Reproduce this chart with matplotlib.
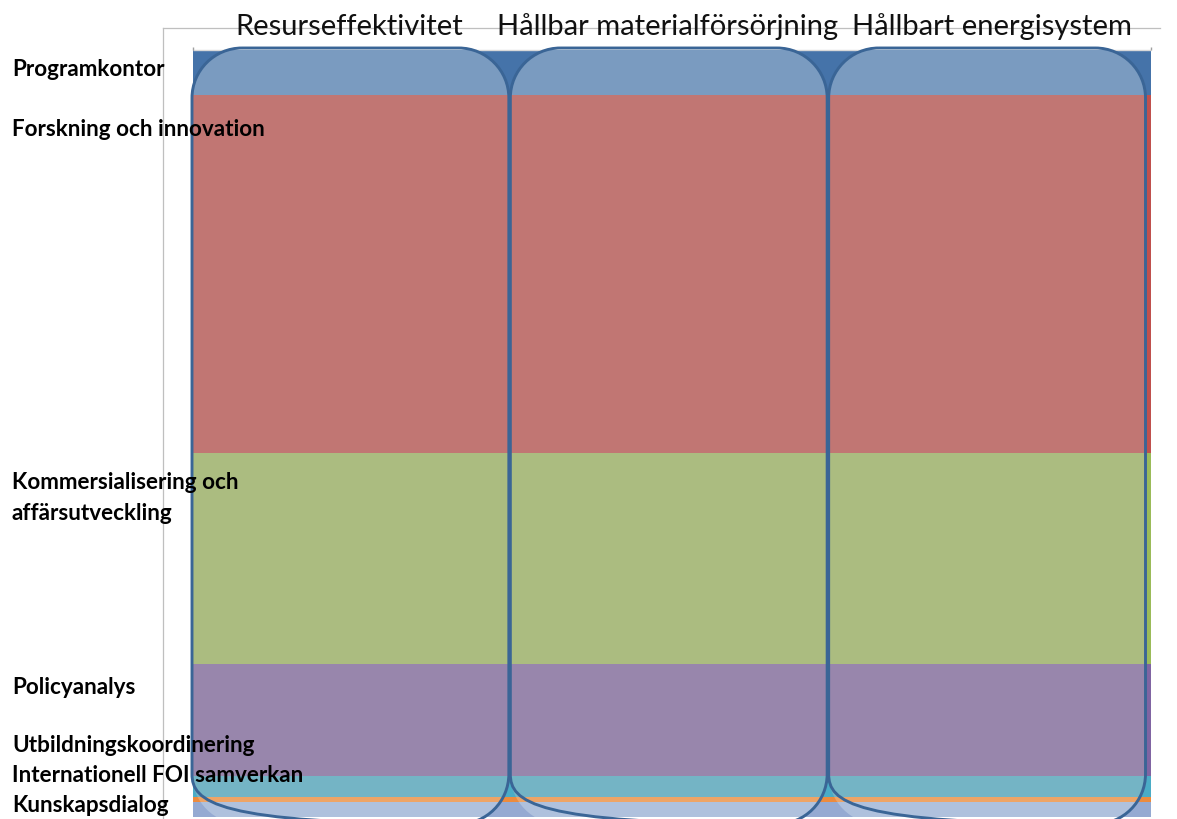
import matplotlib
matplotlib.use("Agg")
import matplotlib.pyplot as plt
from matplotlib.patches import PathPatch
from matplotlib.path import Path

# ---------------- data ----------------
categories = ["Programkontor", "Forskning och innovation",
              "Kommersialisering och\naffärsutveckling", "Policyanalys",
              "Utbildningskoordinering", "Internationell FOI samverkan",
              "Kunskapsdialog"]
shares = [5.9, 46.7, 27.5, 14.6, 2.7, 0.7, 1.9]          # top -> bottom
columns = ["Resurseffektivitet", "Hållbar materialförsörjning", "Hållbart energisystem"]

# ---------------- styles ----------------
outer_colors = ["#4573A9", "#C0504D", "#9BBB59", "#8064A2", "#4BACC6", "#EC8B3E", "#95AAD2"]
inner_colors = ["#7A9BC0", "#C17673", "#ABBC80", "#9886AC", "#74B4C5", "#EEA466", "#AFC1DD"]
label_y_px = [70, 129, 498, 688, 746, 776, 806]   # text layout positions (pixels)
header_dx_px = [-1.5, -1.5, 5.0]                   # header nudges (pixels)


def rounded_rect_path(x, y, w, h, r):
    """Rounded rectangle with circular (cubic-bezier) corners; y grows downward."""
    k = 0.5523 * r
    verts = [
        (x + r, y),
        (x + w - r, y),
        (x + w - r + k, y), (x + w, y + r - k), (x + w, y + r),
        (x + w, y + h - r),
        (x + w, y + h - r + k), (x + w - r + k, y + h), (x + w - r, y + h),
        (x + r, y + h),
        (x + r - k, y + h), (x, y + h - r + k), (x, y + h - r),
        (x, y + r),
        (x, y + r - k), (x + r - k, y), (x + r, y),
        (x + r, y),
    ]
    codes = [Path.MOVETO, Path.LINETO,
             Path.CURVE4, Path.CURVE4, Path.CURVE4,
             Path.LINETO,
             Path.CURVE4, Path.CURVE4, Path.CURVE4,
             Path.LINETO,
             Path.CURVE4, Path.CURVE4, Path.CURVE4,
             Path.LINETO,
             Path.CURVE4, Path.CURVE4, Path.CURVE4,
             Path.CLOSEPOLY]
    return Path(verts, codes)


W, H = 1177, 819
fig = plt.figure(figsize=(W / 100, H / 100), dpi=100)
fig.patch.set_facecolor("white")

# main axes (pixel layout)
ax_l, ax_r, ax_t = 163, 1160, 28
bar_l, bar_r, bar_t, bar_b = 193, 1151, 50, 816.7
ax = fig.add_axes([ax_l / W, 0, (ax_r - ax_l) / W, (H - ax_t) / H])
total = sum(shares)
bw = bar_r - bar_l
ax.set_xlim(-0.5 - (bar_l - ax_l) / bw, 0.5 + (ax_r - bar_r) / bw)
unit = total / (bar_b - bar_t)
ax.set_ylim(-(H - bar_b) * unit, total + (bar_t - ax_t) * unit)
for s in ["right", "bottom"]:
    ax.spines[s].set_visible(False)
for s in ["top", "left"]:
    ax.spines[s].set_color("#BFBFBF")
    ax.spines[s].set_linewidth(0.9)
ax.set_xticks([])
ax.set_yticks([])

# stacked bands (bottom -> top)
vals = shares[::-1]
bottoms = []
acc = 0
for v in vals:
    bottoms.append(acc)
    acc += v
ax.bar([0] * len(vals), vals, bottom=bottoms, width=1.0,
       color=outer_colors[::-1], linewidth=0, zorder=1)
ax.hlines(total, -0.5, 0.5, color="#D9D9D9", lw=1, zorder=2)
ax.vlines([-0.5, 0.5], total, total + 3 * unit, color="#A0A0A0", lw=1, zorder=2)

# overlay axes in pixel coordinates
ov = fig.add_axes([0, 0, 1, 1], zorder=5)
ov.set_xlim(0, W)
ov.set_ylim(H, 0)
ov.axis("off")
ov.patch.set_visible(False)

# rounded column frames derived from bar extents
p0 = ax.transData.transform((-0.5, total))
p1 = ax.transData.transform((0.5, 0))
left_px, right_px = p0[0], p1[0]
top_px = H - p0[1]
n = len(columns)
step = (right_px - left_px - 3) / n
rw = step - 1.5
radius = 50
rtop = top_px - 2
rheight = (H + 5) - rtop
for i, name in enumerate(columns):
    x = left_px - 1 + i * step
    path = rounded_rect_path(x, rtop, rw, rheight, radius)
    clip = PathPatch(path)
    clip.set_transform(ov.transData)
    inner = ax.bar([0] * len(vals), vals, bottom=bottoms, width=1.0,
                   color=inner_colors[::-1], linewidth=0, zorder=3)
    for b in inner:
        b.set_clip_path(clip)
    frame = PathPatch(path, facecolor="none", edgecolor="#3A6596", linewidth=2.1)
    ov.add_patch(frame)
    ov.text(x + rw / 2 + header_dx_px[i], 35, name, ha="center", va="baseline",
            fontsize=21, family="Lato", color="#111111")

for lab, y in zip(categories, label_y_px):
    ov.text(12, y, lab, ha="left", va="center", fontsize=16.2, family="Lato",
            fontweight="bold", color="black", linespacing=1.6)

fig.savefig("out.png", dpi=100)
